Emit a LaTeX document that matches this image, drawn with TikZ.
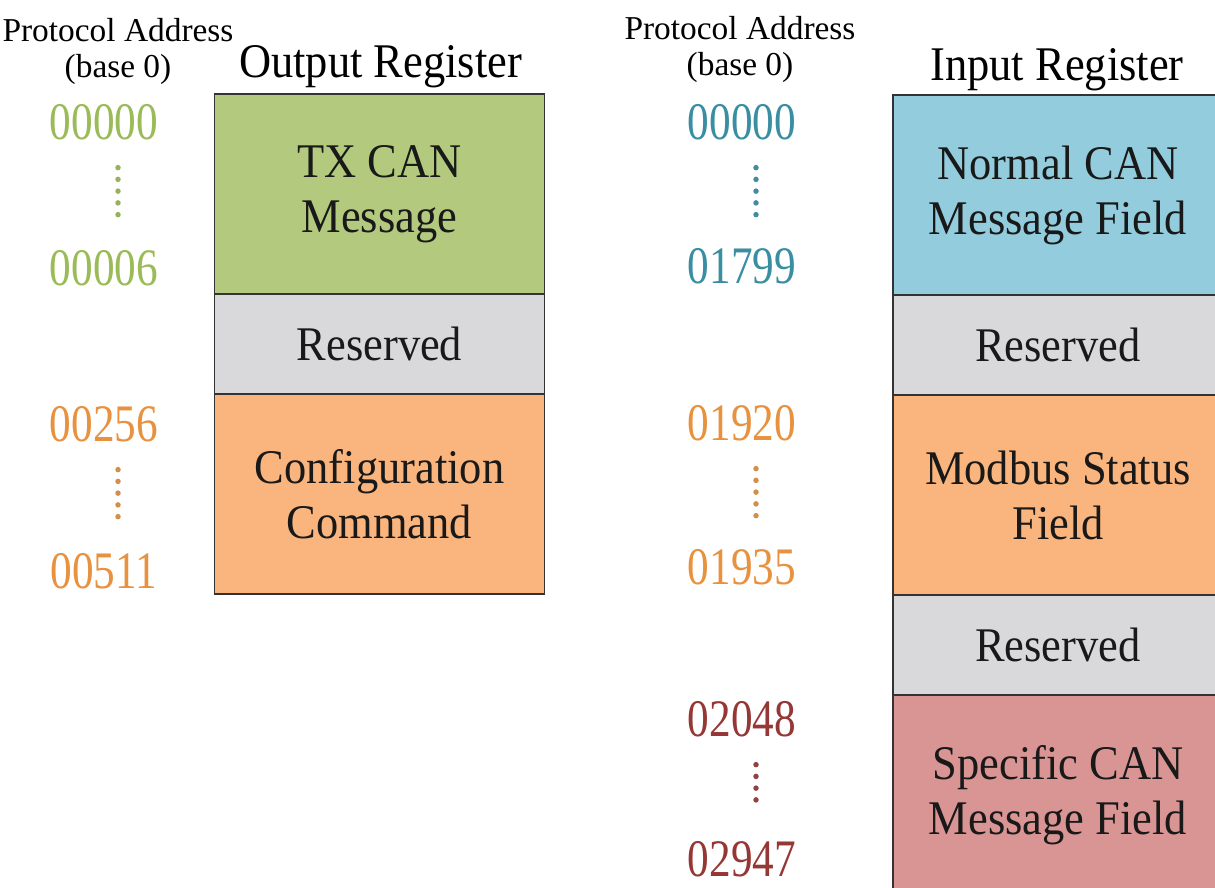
\documentclass[tikz,border=0pt]{standalone}
\usepackage{fontspec}
\setmainfont{Liberation Serif}
\newfontfamily\fieldfont[FakeStretch=0.92]{Liberation Serif}
\newfontfamily\addrfont[FakeStretch=0.82]{Liberation Serif}
\usetikzlibrary{positioning}

\definecolor{txgreen}{HTML}{B3CA7E}
\definecolor{rsvgrey}{HTML}{D9D9DB}
\definecolor{cfgorange}{HTML}{F9B57D}
\definecolor{normblue}{HTML}{93CDDD}
\definecolor{specred}{HTML}{D99594}
\definecolor{numgreen}{HTML}{9BBB59}
\definecolor{numorange}{HTML}{E8913E}
\definecolor{numblue}{HTML}{3A8EA2}
\definecolor{numred}{HTML}{953735}

\begin{document}
\begin{tikzpicture}[
    field/.style={draw=black!80, line width=0.035cm, minimum width=6.6cm, inner sep=0pt, outer sep=0pt, align=center, text=black!90, font=\fieldfont\fontsize{27.5}{31.3}\selectfont},
    tallfield/.style={field, minimum height=4cm},
    lowfield/.style={field, minimum height=2cm},
    reghead/.style={font=\fieldfont\fontsize{27.5}{31}\selectfont, anchor=base, inner sep=0pt},
    addrhead/.style={font=\fontsize{19}{21}\selectfont, align=center, inner sep=0pt},
    addr/.style={font=\addrfont\fontsize{30}{30}\selectfont, inner sep=0pt},
    vdots/.style={line width=0.11cm, line cap=round, dash pattern=on 0pt off 0.235cm, shorten <=0.55cm, shorten >=0.6cm},
]
\fill[white] (0,0) rectangle (24.3,-17.76);
\useasboundingbox (0,0) rectangle (24.3,-17.76);

% ── Output register (left) ──
\node[addrhead] (addrL) at (2.36,-1.03) {Protocol Address\\(base 0)};
\node[reghead] (outreg) at (7.61,-1.56) {Output Register};

\node[tallfield, fill=txgreen] (tx) at (7.59,-3.88) {TX CAN\\Message};
\node[lowfield, fill=rsvgrey, below=0pt of tx] (resL) {Reserved};
\node[tallfield, fill=cfgorange, below=0pt of resL] (cfg) {Configuration\\Command};

\node[addr, text=numgreen] (o0) at (2.08,-2.44) {00000};
\node[addr, text=numgreen] (o6) at (2.08,-5.36) {00006};
\node[addr, text=numorange] (o256) at (2.08,-8.48) {00256};
\node[addr, text=numorange] (o511) at (2.08,-11.42) {00511};

\draw[vdots, numgreen!85!gray] ([xshift=0.28cm]o0.south) -- ([xshift=0.28cm]o6.north);
\draw[vdots, numorange!80!gray] ([xshift=0.28cm]o256.south) -- ([xshift=0.28cm]o511.north);

% ── Input register (right) ──
\node[addrhead] (addrR) at (14.8,-0.99) {Protocol Address\\(base 0)};
\node[reghead] (inreg) at (21.14,-1.62) {Input Register};

\node[tallfield, fill=normblue] (norm) at (21.16,-3.9) {Normal CAN\\Message Field};
\node[lowfield, fill=rsvgrey, below=0pt of norm] (resA) {Reserved};
\node[tallfield, fill=cfgorange, below=0pt of resA] (stat) {Modbus Status\\Field};
\node[lowfield, fill=rsvgrey, below=0pt of stat] (resB) {Reserved};
\node[tallfield, fill=specred, below=0pt of resB] (spec) {Specific CAN\\Message Field};

\node[addr, text=numblue] (i0) at (14.84,-2.44) {00000};
\node[addr, text=numblue] (i1799) at (14.84,-5.32) {01799};
\node[addr, text=numorange] (i1920) at (14.84,-8.46) {01920};
\node[addr, text=numorange] (i1935) at (14.84,-11.34) {01935};
\node[addr, text=numred] (i2048) at (14.84,-14.38) {02048};
\node[addr, text=numred] (i2947) at (14.84,-17.18) {02947};

\draw[vdots, numblue!85!gray] ([xshift=0.28cm]i0.south) -- ([xshift=0.28cm]i1799.north);
\draw[vdots, numorange!80!gray] ([xshift=0.28cm]i1920.south) -- ([xshift=0.28cm]i1935.north);
\draw[vdots, numred!85!gray] ([xshift=0.28cm]i2048.south) -- ([xshift=0.28cm]i2947.north);

\end{tikzpicture}
\end{document}
